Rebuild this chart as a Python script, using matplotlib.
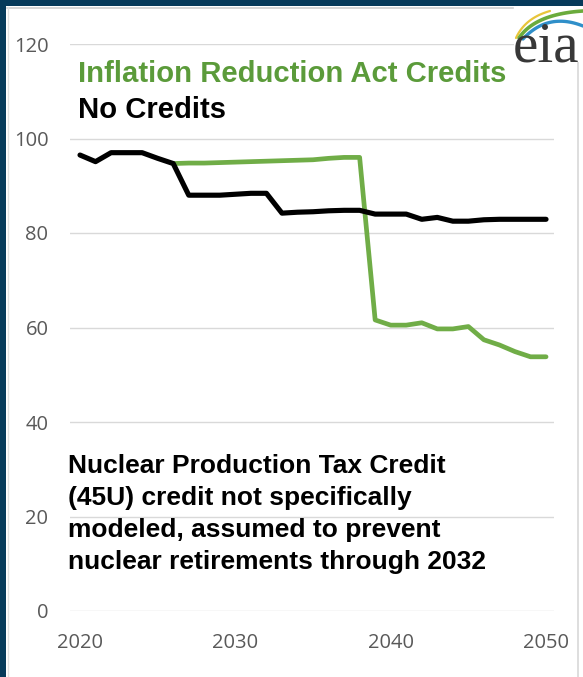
import numpy as np
import matplotlib
matplotlib.use('agg')
import matplotlib.pyplot as plt
from matplotlib.patches import Rectangle

# Nuclear capacity projections (GW)
years = list(range(2020, 2051))
no_credits = [96.5, 95.1, 97.0, 97.0, 97.0, 95.8, 94.7, 88.0, 88.0, 88.0,
              88.2, 88.4, 88.4, 84.2, 84.4, 84.5, 84.7, 84.8, 84.8, 84.0,
              84.0, 84.0, 82.9, 83.3, 82.5, 82.5, 82.8, 82.9, 82.9, 82.9,
              82.9]
ira_years = list(range(2026, 2051))
ira_credits = [94.7, 94.8, 94.8, 94.9, 95.0, 95.1, 95.2, 95.3, 95.4, 95.5,
               95.8, 96.0, 96.0, 61.6, 60.5, 60.5, 61.0, 59.7, 59.7, 60.2,
               57.4, 56.3, 54.9, 53.8, 53.8]

yticks = [0, 20, 40, 60, 80, 100, 120]
xticks = [2020, 2030, 2040, 2050]

note_lines = ['Nuclear Production Tax Credit',
              '(45U) credit not specifically',
              'modeled, assumed to prevent',
              'nuclear retirements through 2032']

W, H = 583, 677
NAVY = '#063a5a'
GREEN_TXT = '#5b9b3a'
GREEN_LINE = '#70ad47'

fig = plt.figure(figsize=(W / 100, H / 100), dpi=100)
fig.patch.set_facecolor(NAVY)

# background panel in pixel coordinates
bg = fig.add_axes([0, 0, 1, 1], zorder=0)
bg.set_xlim(0, W)
bg.set_ylim(H, 0)
bg.axis('off')
bg.add_patch(Rectangle((6, 6), W - 6, H - 6, facecolor='white', edgecolor='none'))
bg.plot([7, 513], [7.5, 7.5], color='#d0d0d0', lw=1.2)
bg.plot([7.5, 7.5], [7, H], color='#e0e0e0', lw=1)
bg.plot([578, 578], [60, H], color='#d8d8d8', lw=1.2)

# main plot
ax = fig.add_axes([70 / W, 1 - 611 / H, 483.5 / W, 567 / H], zorder=1)
ax.patch.set_alpha(0)
ax.plot(years, no_credits, color='black', lw=3.7, solid_capstyle='round',
        solid_joinstyle='round', zorder=3)
ax.plot(ira_years, ira_credits, color=GREEN_LINE, lw=3.4, solid_capstyle='round',
        solid_joinstyle='round', zorder=2)

ax.set_xlim(2019.356, 2050.48)
ax.set_ylim(0, 120)
ax.set_yticks(yticks)
ax.set_xticks(xticks)
ax.grid(axis='y', color='#d9d9d9', lw=1)
ax.set_axisbelow(True)
for s in ax.spines.values():
    s.set_visible(False)
ax.tick_params(length=0, labelsize=14.5, labelcolor='#595959')
ax.tick_params(axis='y', pad=15.5)
ax.tick_params(axis='x', pad=15.5)
for lbl in ax.get_xticklabels() + ax.get_yticklabels():
    lbl.set_fontfamily('Open Sans')

# legend text and note
fig.text(78 / W, 1 - 81.7 / H, 'Inflation Reduction Act Credits', color=GREEN_TXT,
         fontsize=21.1, fontweight='bold', family='Liberation Sans', va='baseline', zorder=5)
fig.text(78 / W, 1 - 118.3 / H, 'No Credits', color='black',
         fontsize=21.1, fontweight='bold', family='Liberation Sans', va='baseline', zorder=5)
for i, line in enumerate(note_lines):
    fig.text(68 / W, 1 - (473 + 32 * i) / H, line, color='black', fontsize=19.0,
             fontweight='bold', family='Liberation Sans', va='baseline', zorder=5)

# eia logo
logo = fig.add_axes([0, 0, 1, 1], zorder=4)
logo.set_xlim(0, W)
logo.set_ylim(H, 0)
logo.axis('off')
logo.add_patch(Rectangle((514, 6), W - 514, 56, facecolor='white', edgecolor='none'))


def swoosh(p0, p1, p2, color, lw):
    t = np.linspace(0, 1, 40)
    x = (1 - t) ** 2 * p0[0] + 2 * (1 - t) * t * p1[0] + t ** 2 * p2[0]
    y = (1 - t) ** 2 * p0[1] + 2 * (1 - t) * t * p1[1] + t ** 2 * p2[1]
    logo.plot(x, y, color=color, lw=lw, solid_capstyle='round')


swoosh((516, 38), (525, 18), (550, 11), '#e8c53a', 1.6)
swoosh((519, 38), (535, 14), (583, 11), '#6aab3c', 2.6)
swoosh((523, 39), (548, 12), (583, 26), '#2f8fc9', 2.4)
logo.text(513, 62, 'eia', color='#383838', fontsize=41, family='Liberation Serif',
          va='baseline', ha='left')

fig.savefig('out.png', dpi=100, facecolor=NAVY)
